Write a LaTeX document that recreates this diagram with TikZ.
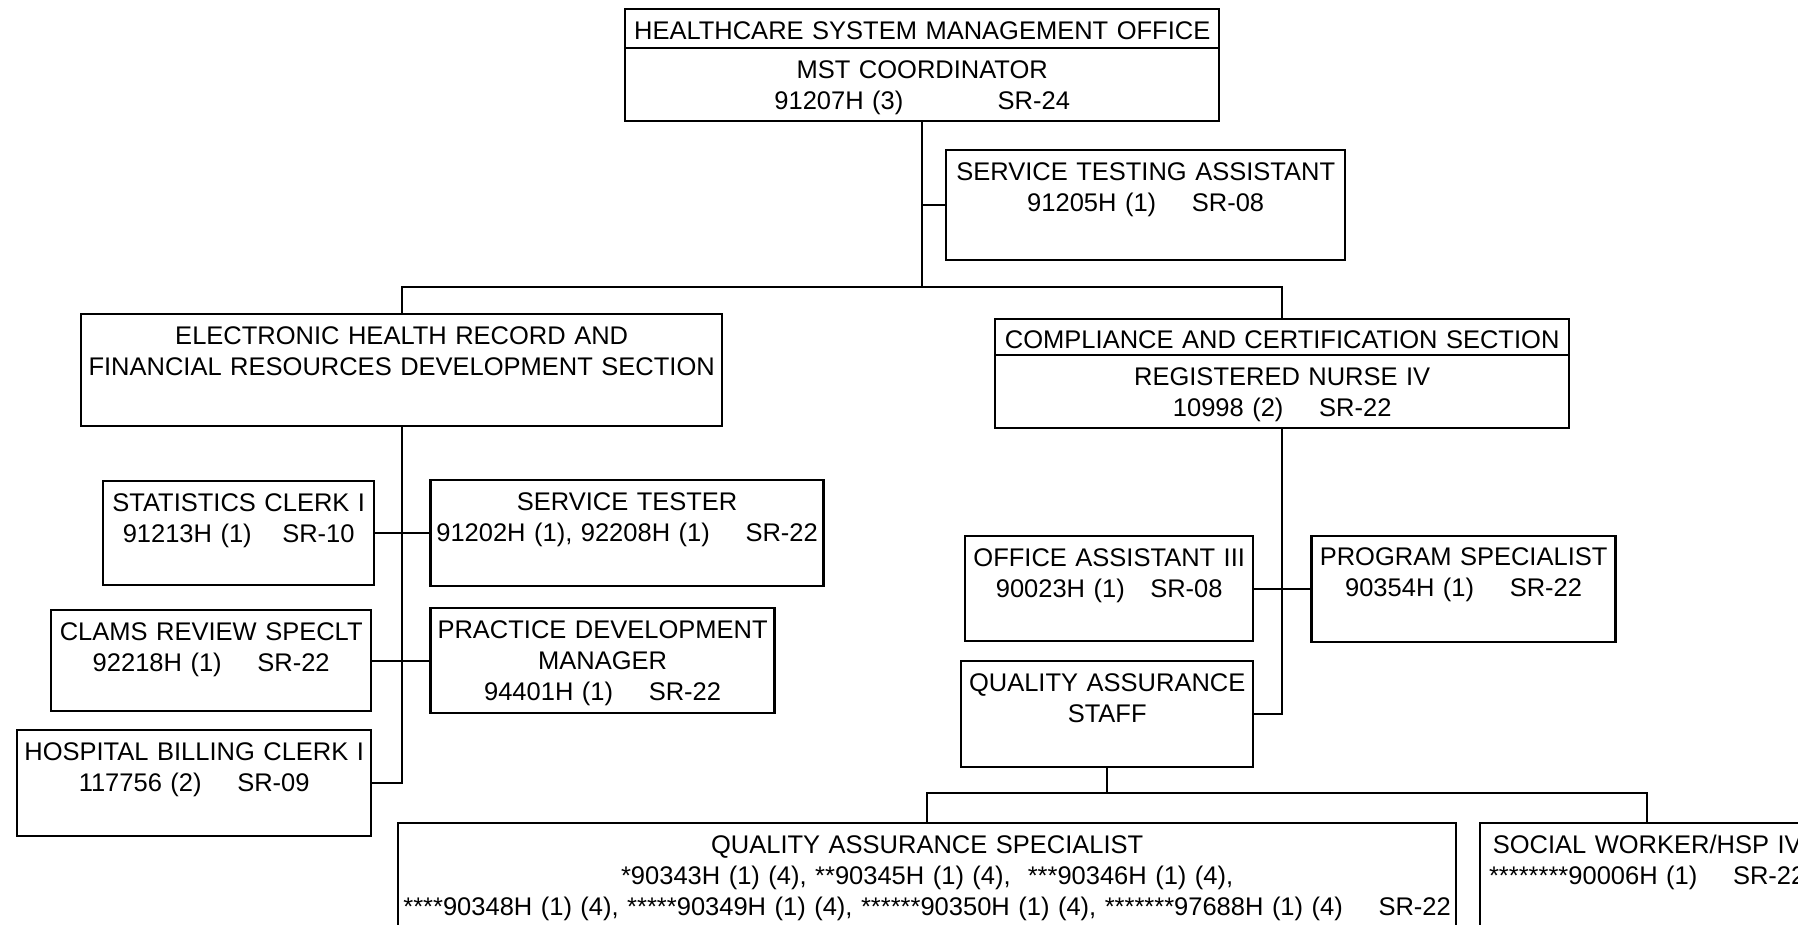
\documentclass[tikz,border=0pt]{standalone}
\usepackage{fontspec}
\setmainfont{Liberation Sans}
\usetikzlibrary{positioning}

\begin{document}
\begin{tikzpicture}[x=1pt, y=-1pt, line width=2.4pt, font=\fontsize{25.5}{31}\selectfont,
    post/.style={draw, inner sep=0pt, text width=#1, align=center, text height=30pt, anchor=north west}]
      \useasboundingbox (0,0) rectangle (1798,925);
      \clip (0,0) rectangle (1798,925);

      \node[post=594, text depth=82pt] (hsmo) at (624,8) {HEALTHCARE SYSTEM MANAGEMENT OFFICE\\[8pt] MST COORDINATOR\\ 91207H (3)\hspace{3.7em}SR-24};
      \node[post=399, text depth=80pt] (sta) at (945,149) {SERVICE TESTING ASSISTANT\\ 91205H (1)\hspace{1.4em}SR-08};
      \node[post=641, text depth=82pt] (ehr) at (80,313) {ELECTRONIC HEALTH RECORD AND\\ FINANCIAL RESOURCES DEVELOPMENT SECTION};
      \node[post=574, text height=29pt, text depth=80pt] (ccs) at (994,318) {COMPLIANCE AND CERTIFICATION SECTION\\[6pt] REGISTERED NURSE IV\\ 10998 (2)\hspace{1.4em}SR-22};

      \node[post=271, text depth=74pt] (stat) at (102,480) {STATISTICS CLERK I\\ 91213H (1)\hspace{1.2em}SR-10};
      \node[post=393, text depth=76pt, right=54pt of stat] (st) {SERVICE TESTER\\ 91202H (1), 92208H (1)\hspace{1.4em}SR-22};
      \node[post=320, text depth=71pt] (clams) at (50,609) {CLAMS REVIEW SPECLT\\ 92218H (1)\hspace{1.4em}SR-22};
      \node[post=344, text depth=75pt, right=57pt of clams] (pdm) {PRACTICE DEVELOPMENT\\ MANAGER\\ 94401H (1)\hspace{1.4em}SR-22};
      \node[post=354, text depth=76pt] (hbc) at (16,729) {HOSPITAL BILLING CLERK I\\ 117756 (2)\hspace{1.4em}SR-09};

      \node[post=288, text depth=75pt] (oa) at (964,535) {OFFICE ASSISTANT III\\ 90023H (1)\hspace{1em}SR-08};
      \node[post=304, text depth=76pt, right=56pt of oa] (ps) {PROGRAM SPECIALIST\\ 90354H (1)\hspace{1.4em}SR-22};
      \node[post=292, text depth=76pt] (qastaff) at (960,660) {QUALITY ASSURANCE\\ STAFF};
      \node[post=1058, text depth=170pt] (qas) at (397,822) {QUALITY ASSURANCE SPECIALIST\\ {}*90343H (1) (4), **90345H (1) (4),\ \ ***90346H (1) (4),\\ \mbox{****90348H (1) (4), *****90349H (1) (4), ******90350H (1) (4), *******97688H (1) (4)\hspace{1.4em}SR-22}};
      \node[post=334, text depth=170pt] (sw) at (1479,822) {SOCIAL WORKER/HSP IV\\ {}********90006H (1)\hspace{1.4em}SR-22};

      \draw ([yshift=-40pt]hsmo.north west) -- ([yshift=-40pt]hsmo.north east);
      \draw ([yshift=-37pt]ccs.north west) -- ([yshift=-37pt]ccs.north east);

      \coordinate (bus) at (921,287);
      \coordinate (qbus) at (1106,793);
      \draw (hsmo.south) -- (hsmo.south |- bus);
      \draw (sta.west) -- (sta.west -| hsmo.south);
      \draw (ehr.north) |- (bus) -| (ccs.north);
      \draw (ehr.south) |- (hbc.east);
      \draw (stat.east) -- (st.west);
      \draw (clams.east) -- (pdm.west);
      \draw (ccs.south) |- (qastaff.east);
      \draw (oa.east) -- (ps.west);
      \draw (qastaff.south) -- (qastaff.south |- qbus);
      \draw (qas.north) |- (qbus) -| (sw.north);
    \end{tikzpicture}
\end{document}
